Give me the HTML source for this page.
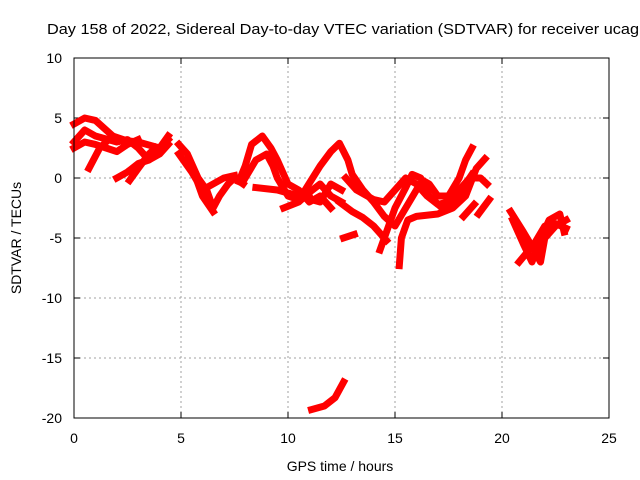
<!DOCTYPE html>
<html><head><meta charset="utf-8"><style>
body{margin:0;background:#fff}
svg{display:block;font-family:"Liberation Sans",sans-serif}
</style></head><body>
<svg id="chart" width="640" height="480" viewBox="0 0 640 480" xmlns="http://www.w3.org/2000/svg">
<rect width="640" height="480" fill="#fff"/>
<text x="47" y="34" font-size="15" textLength="592" lengthAdjust="spacingAndGlyphs">Day 158 of 2022, Sidereal Day-to-day VTEC variation (SDTVAR) for receiver ucag</text>
<g id="grid"></g>
<g id="axes"></g>
<g id="series"></g>
<rect x="74" y="58" width="535" height="360" fill="none" stroke="#000" stroke-width="1"/>
<text x="340" y="471" font-size="14" text-anchor="middle">GPS time / hours</text>
<text transform="translate(21,238) rotate(-90)" font-size="14" text-anchor="middle">SDTVAR / TECUs</text>
</svg>
<script>
const xTicks=[0,5,10,15,20,25];
const yTicks=[10,5,0,-5,-10,-15,-20];
const trace1=[[0,4.5],[0.5,5],[1,4.8],[1.5,4],[2,3.2],[3,3],[4,2.5],[4.4,3.2]];
const trace2=[[0,3],[0.5,4],[1,3.5],[2,3],[2.5,3.2],[3,2.5],[3.5,1.5],[4,2.5],[4.4,3.5]];
const trace3=[[0,2.5],[0.5,3],[1,2.8],[1.5,2.5],[2,2.2],[2.5,2.8],[3,3.2]];
const trace4=[[0.7,0.8],[1.2,2.5],[1.8,3.5],[2.3,3.2]];
const trace5=[[2,0],[2.5,0.5],[3,1.2],[3.5,1.5],[4,2],[4.4,2.8]];
const trace6=[[2.6,-0.2],[3,0.8],[3.5,2],[3.8,2.5]];
const trace7=[[4.9,2.8],[5.3,2],[5.8,0],[6.2,-1],[6.5,-2.5],[6.8,-1.5],[7.2,-0.5],[7.5,0],[7.9,-0.5]];
const trace8=[[4.9,2],[5.5,0.5],[6,-1],[6.5,-0.5],[7,0],[7.5,0.2]];
const trace9=[[5.5,1],[6,-1.5],[6.5,-2.8]];
const trace10=[[7.7,-0.3],[8,1],[8.3,2.8],[8.8,3.5],[9.2,2.5],[9.5,1.5],[10,-0.5],[10.5,-1],[11,-2],[11.5,-1.5],[12,-2.5]];
const trace11=[[8,0],[8.5,1.5],[9,2],[9.3,1],[9.5,0],[10,-1.5],[10.5,-1.8],[11,-1.5]];
const trace12=[[8.5,-0.8],[9.5,-1],[10.5,-1.5],[11.5,-2],[12,-0.5],[12.5,-1]];
const trace13=[[9.8,-2.5],[10.5,-2],[11,-1.2],[11.5,-0.5],[12,-1.5],[12.5,-2]];
const trace14=[[10.8,-1],[11.5,1],[12,2.2],[12.4,2.9],[12.8,1.5],[13,0.3],[13.5,-1],[14,-2],[14.5,-3.2],[15,-4],[15.5,-2.5],[16,-1],[16.3,-0.2],[16.6,-0.5],[17,-1.5],[17.5,-1.5],[18,0],[18.3,1.5],[18.6,2.5]];
const trace15=[[12.7,0],[13.2,-1],[14,-1.8],[14.5,-2],[15,-1],[15.5,0],[16,-0.5],[16.5,-1.5],[17,-2.2],[17.5,-2],[18,-1],[18.5,0],[19,0],[19.3,-0.5]];
const trace16=[[12.4,-2],[13,-2.8],[13.5,-3.3],[14,-4],[14.6,-5.2]];
const trace17=[[15.2,-7.3],[15.3,-5],[15.6,-3.5],[16,-3.2],[17,-3],[17.7,-2.5],[18.3,-1.5],[18.8,0.8],[19.2,1.6]];
const trace18=[[14.3,-6],[14.7,-4],[15,-2.5],[15.5,-0.8],[15.8,0.3],[16.2,0],[16.6,-1.5],[17.2,-2.5],[17.8,-2],[18.3,-0.5],[18.6,0.3]];
const trace19=[[18.9,-3],[19.4,-1.8]];
const trace20=[[18.2,-3.2],[18.7,-2.2]];
const trace21=[[12.6,-5],[13.1,-4.7]];
const trace22=[[20.4,-2.8],[21,-4.5],[21.5,-6],[21.8,-7],[22,-5],[22.5,-4],[23,-3.5]];
const trace23=[[20.5,-3.5],[21,-5.5],[21.4,-7],[21.7,-5.5],[22.2,-3.5],[22.7,-3],[22.9,-4.5]];
const trace24=[[20.8,-7],[21.5,-5.5],[22,-4],[22.5,-3.8],[23,-4.2]];
const trace25=[[11.1,-19.3],[11.7,-19],[12.2,-18.3],[12.6,-17]];
const traces=[trace1,trace2,trace3,trace4,trace5,trace6,trace7,trace8,trace9,trace10,trace11,trace12,trace13,trace14,trace15,trace16,trace17,trace18,trace19,trace20,trace21,trace22,trace23,trace24,trace25];

const X0=74,X1=609,Y0=418,Y1=58;
const xScale=h=>X0+(h-0)/(25-0)*(X1-X0);
const yScale=v=>Y0-(v-(-20))/(10-(-20))*(Y0-Y1);
const NS="http://www.w3.org/2000/svg";
const grid=document.getElementById('grid'),axes=document.getElementById('axes'),series=document.getElementById('series');
function mk(tag,attrs,parent){const e=document.createElementNS(NS,tag);for(const k in attrs)e.setAttribute(k,attrs[k]);parent.appendChild(e);return e;}
xTicks.forEach(t=>{
  const x=xScale(t);
  if(t>0&&t<25){const g=mk('line',{x1:x,x2:x,y1:Y0,y2:Y1,stroke:'#a0a0a0','stroke-dasharray':'2,3'},grid);
  
  }
  const tk=mk('line',{x1:x,x2:x,y1:Y0,y2:Y0-6,stroke:'#000'},axes);
  
  
  const tk2=mk('line',{x1:x,x2:x,y1:Y1,y2:Y1+6,stroke:'#000'},axes);
  
  
  const lb=mk('text',{x:x,y:443,'font-size':14,'text-anchor':'middle'},axes);lb.textContent=t;
  
  
});
yTicks.forEach(t=>{
  const y=yScale(t);
  if(t>-20&&t<10){const g=mk('line',{x1:X0,x2:X1,y1:y,y2:y,stroke:'#a0a0a0','stroke-dasharray':'2,3'},grid);
  
  }
  const tk=mk('line',{x1:X0,x2:X0+6,y1:y,y2:y,stroke:'#000'},axes);
  
  
  const tk2=mk('line',{x1:X1,x2:X1-6,y1:y,y2:y,stroke:'#000'},axes);
  
  
  const lb=mk('text',{x:62,y:y+5,'font-size':14,'text-anchor':'end'},axes);lb.textContent=t;
  
  
});
traces.forEach((tr,i)=>{
  const pts=tr.map(p=>xScale(p[0]).toFixed(1)+','+yScale(p[1]).toFixed(1)).join(' ');
  const pl=mk('polyline',{points:pts,fill:'none',stroke:'#ff0000','stroke-width':7,'stroke-linejoin':'round','stroke-linecap':'square'},series);
  
  
});
</script>
</body></html>
